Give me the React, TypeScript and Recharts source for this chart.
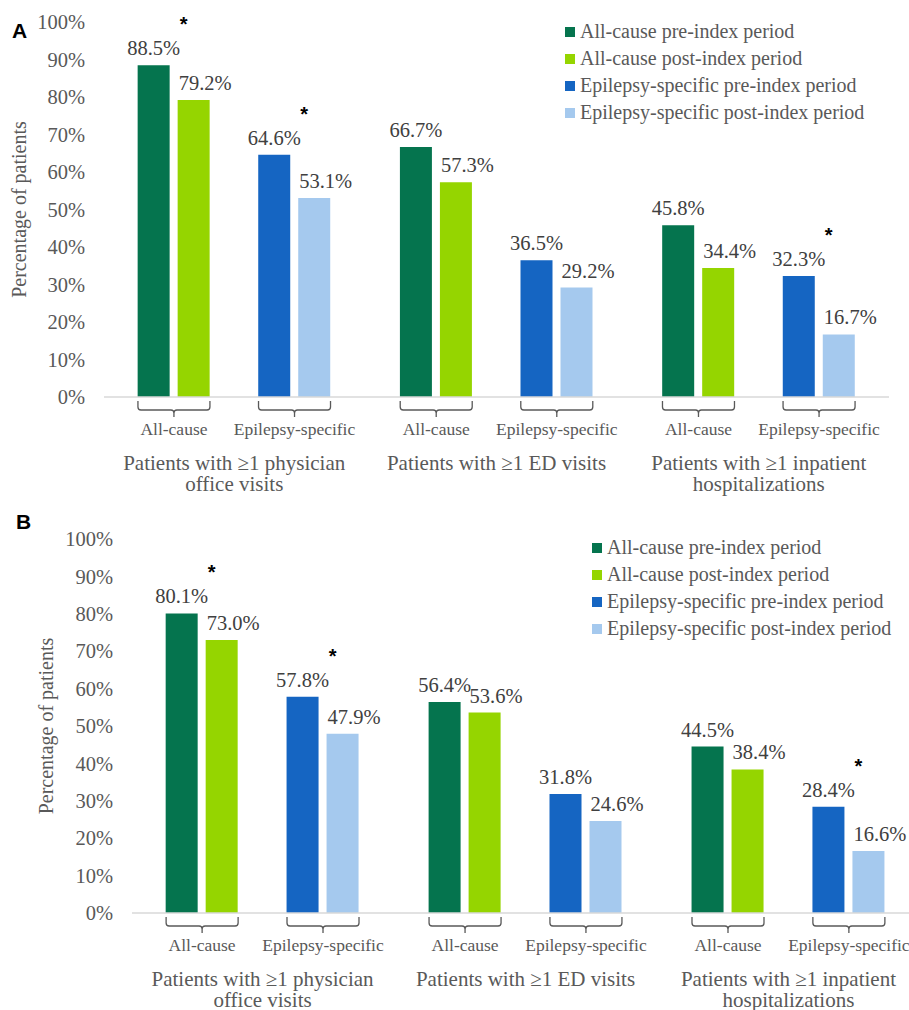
import React from 'react';
import { BarChart, Bar, XAxis, YAxis, Cell, Legend } from 'recharts';

// Sub-group labels under each pair of bars
const SUBGROUPS = ['All-cause', 'Epilepsy-specific', 'All-cause', 'Epilepsy-specific', 'All-cause', 'Epilepsy-specific'];
// Outcome labels (one per pair of sub-groups), split into lines
const OUTCOMES = [
  ['Patients with ≥1 physician', 'office visits'],
  ['Patients with ≥1 ED visits'],
  ['Patients with ≥1 inpatient', 'hospitalizations'],
];

// Panel A
const PRE_A = [88.5, 64.6, 66.7, 36.5, 45.8, 32.3];
const POST_A = [79.2, 53.1, 57.3, 29.2, 34.4, 16.7];
const SIG_A = [true, true, false, false, false, true];

// Panel B
const PRE_B = [80.1, 57.8, 56.4, 31.8, 44.5, 28.4];
const POST_B = [73.0, 47.9, 53.6, 24.6, 38.4, 16.6];
const SIG_B = [true, true, false, false, false, true];

const Y_TICKS = [0, 10, 20, 30, 40, 50, 60, 70, 80, 90, 100];

const LEGEND_ITEMS = [
  'All-cause pre-index period',
  'All-cause post-index period',
  'Epilepsy-specific pre-index period',
  'Epilepsy-specific post-index period',
];

const COLORS = {
  allPre: '#05744E',
  allPost: '#95D500',
  epiPre: '#1565C2',
  epiPost: '#A5C9EE',
};
const LEGEND_COLORS = [COLORS.allPre, COLORS.allPost, COLORS.epiPre, COLORS.epiPost];

const SERIF = '"Liberation Serif", "Times New Roman", serif';
const SANS = '"Liberation Sans", Arial, sans-serif';
const TEXT = '#595959';
const VALUE_TEXT = '#404040';

// Layout of the numeric x axis: pairs one unit apart, outcomes spaced wider
const PITCH = 2.175;
const PAD = 0.58;
const X_DOMAIN = [-PAD, 2 * PITCH + 1 + PAD];
const positionOf = (i: number) => Math.floor(i / 2) * PITCH + (i % 2);
const SUB_TICKS = SUBGROUPS.map((_, i) => positionOf(i));
const MAJOR_TICKS = OUTCOMES.map((_, m) => m * PITCH + 0.5);

const buildRows = (pre: number[], post: number[], sig: boolean[]) =>
  SUBGROUPS.map((name, i) => ({
    name,
    pos: positionOf(i),
    pre: pre[i],
    post: post[i],
    sig: sig[i],
    epi: i % 2 === 1,
  }));

const fmt = (v: number) => `${Number(v).toFixed(1)}%`;

const SubTick = (props: any) => {
  const { x, y, index } = props;
  const label = SUBGROUPS[index] ?? '';
  const h = 36;
  return (
    <g>
      <path
        d={`M${x - h},${y + 4} V${y + 10} Q${x - h},${y + 13} ${x - h + 3},${y + 13} H${x - 3} Q${x},${y + 13} ${x},${y + 16} V${y + 20} M${x + h},${y + 4} V${y + 10} Q${x + h},${y + 13} ${x + h - 3},${y + 13} H${x + 3} Q${x},${y + 13} ${x},${y + 16}`}
        fill="none"
        stroke="#595959"
        strokeWidth={1.3}
      />
      <text x={x} y={y + 38} textAnchor="middle" fontFamily={SERIF} fontSize={17.5} fill={TEXT}>
        {label}
      </text>
    </g>
  );
};

const MajorTick = (props: any) => {
  const { x, y, index } = props;
  const lines = OUTCOMES[index] ?? [];
  return (
    <g>
      {lines.map((line, k) => (
        <text key={k} x={x} y={y + 29 + k * 21} textAnchor="middle" fontFamily={SERIF} fontSize={21} fill={TEXT}>
          {line}
        </text>
      ))}
    </g>
  );
};

const YTitle = ({ cx, cy }: { cx: number; cy: number }) => (
  <text
    x={cx}
    y={cy}
    transform={`rotate(-90, ${cx}, ${cy})`}
    textAnchor="middle"
    dominantBaseline="central"
    fontFamily={SERIF}
    fontSize={20}
    fill={TEXT}
  >
    Percentage of patients
  </text>
);

const LegendBox = () => (
  <div style={{ fontFamily: SERIF, fontSize: 20, color: TEXT }}>
    {LEGEND_ITEMS.map((item, i) => (
      <div key={item} style={{ display: 'flex', alignItems: 'center', height: 27, whiteSpace: 'nowrap' }}>
        <span style={{ width: 10, height: 10, background: LEGEND_COLORS[i], marginRight: 5, display: 'inline-block' }} />
        <span>{item}</span>
      </div>
    ))}
  </div>
);

type PanelProps = {
  pre: number[];
  post: number[];
  sig: boolean[];
  width: number;
  height: number;
  top: number;
  yAxisWidth: number;
  plotHeight: number;
  majorHeight: number;
  legendLeft: number;
  legendTop: number;
  titleX: number;
};

const Panel = ({ pre, post, sig, width, height, top, yAxisWidth, plotHeight, majorHeight, legendLeft, legendTop, titleX }: PanelProps) => {
  const rows = buildRows(pre, post, sig);
  const subHeight = 44;
  const bottom = height - top - plotHeight;
  const preLabel = (p: any) => {
    const { x, y, width: w, value, index } = p;
    const row = rows[index];
    return (
      <g>
        <text x={Number(x) + Number(w) / 2} y={Number(y) - 10} textAnchor="middle" fontFamily={SERIF} fontSize={20.5} fill={VALUE_TEXT}>
          {fmt(value)}
        </text>
        {row && row.sig ? (
          <text x={Number(x) + Number(w) + 14} y={Number(y) - 34} textAnchor="middle" fontFamily={SANS} fontWeight="bold" fontSize={20} fill="#000">
            *
          </text>
        ) : null}
      </g>
    );
  };
  const postLabel = (p: any) => {
    const { x, y, value } = p;
    return (
      <text x={Number(x) + 1} y={Number(y) - 10} textAnchor="start" fontFamily={SERIF} fontSize={20.5} fill={VALUE_TEXT}>
        {fmt(value)}
      </text>
    );
  };
  return (
    <BarChart
      width={width}
      height={height}
      data={rows}
      margin={{ top, right: 20, bottom: bottom - subHeight - majorHeight, left: 0 }}
      barGap={8}
    >
      <XAxis
        xAxisId="a_bracket"
        dataKey="pos"
        type="number"
        domain={X_DOMAIN}
        ticks={SUB_TICKS}
        interval={0}
        allowDataOverflow
        tick={<SubTick />}
        tickLine={false}
        tickSize={0}
        tickMargin={0}
        axisLine={{ stroke: '#D9D9D9', strokeWidth: 1.3 }}
        height={subHeight}
      />
      <XAxis
        xAxisId="b_outcome"
        dataKey="pos"
        type="number"
        domain={X_DOMAIN}
        ticks={MAJOR_TICKS}
        interval={0}
        allowDataOverflow
        tick={<MajorTick />}
        tickLine={false}
        tickSize={0}
        tickMargin={0}
        axisLine={false}
        height={majorHeight}
      />
      <YAxis
        type="number"
        domain={[0, 100]}
        ticks={Y_TICKS}
        interval={0}
        tickFormatter={(v: number) => `${v}%`}
        axisLine={false}
        tickLine={false}
        tickSize={0}
        tickMargin={19}
        width={yAxisWidth}
        tick={{ fontFamily: SERIF, fontSize: 20.5, fill: TEXT }}
        label={<YTitle cx={titleX} cy={top + plotHeight / 2} />}
      />
      <Legend
        layout="vertical"
        align="center"
        verticalAlign="middle"
        content={<LegendBox />}
        wrapperStyle={{ left: legendLeft, top: legendTop, width: 'auto' }}
      />
      <Bar dataKey="pre" xAxisId="a_bracket" barSize={32} isAnimationActive={false} label={preLabel}>
        {rows.map((r, i) => (
          <Cell key={i} fill={r.epi ? COLORS.epiPre : COLORS.allPre} />
        ))}
      </Bar>
      <Bar dataKey="post" xAxisId="a_bracket" barSize={32} isAnimationActive={false} label={postLabel}>
        {rows.map((r, i) => (
          <Cell key={i} fill={r.epi ? COLORS.epiPost : COLORS.allPost} />
        ))}
      </Bar>
    </BarChart>
  );
};

const PanelLetter = ({ letter, top, left }: { letter: string; top: number; left: number }) => (
  <div
    style={{
      position: 'absolute',
      top,
      left,
      fontFamily: SANS,
      fontWeight: 'bold',
      fontSize: 21,
      lineHeight: '21px',
      color: '#000',
    }}
  >
    {letter}
  </div>
);

export default function App() {
  return (
    <div style={{ position: 'absolute', left: 0, top: 0, width: 909, height: 1010, overflow: 'hidden', background: '#fff' }}>
      <div style={{ position: 'absolute', left: 0, top: 0 }}>
        <Panel
          pre={PRE_A}
          post={POST_A}
          sig={SIG_A}
          width={909}
          height={500}
          top={22}
          yAxisWidth={104}
          plotHeight={375}
          majorHeight={59}
          legendLeft={565}
          legendTop={18}
          titleX={19}
        />
      </div>
      <div style={{ position: 'absolute', left: 0, top: 500 }}>
        <Panel
          pre={PRE_B}
          post={POST_B}
          sig={SIG_B}
          width={939}
          height={510}
          top={39}
          yAxisWidth={132}
          plotHeight={374}
          majorHeight={53}
          legendLeft={592}
          legendTop={34}
          titleX={46}
        />
      </div>
      <PanelLetter letter="A" top={20} left={12} />
      <PanelLetter letter="B" top={511} left={16} />
    </div>
  );
}
